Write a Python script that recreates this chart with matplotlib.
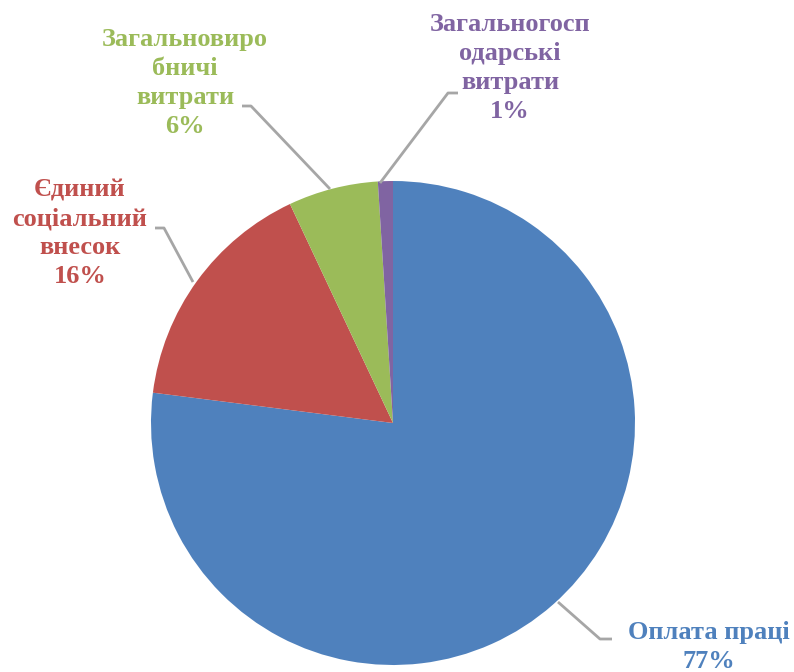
import matplotlib.pyplot as plt

# data
labels = ["Оплата праці", "Єдиний\nсоціальний\nвнесок", "Загальновиро\nбничі\nвитрати", "Загальногосп\nодарські\nвитрати"]
shares = [77, 16, 6, 1]
colors = ["#4F81BD", "#C0504D", "#9BBB59", "#8064A2"]

# label centres and leader lines, in pixel coords (y from top)
label_pos = [(709, 647), (80, 233), (185, 83), (510, 68)]
leaders = [
    [(612, 639), (600, 639), (558, 602)],
    [(155, 228), (164, 228), (193, 282)],
    [(242, 106), (251, 106), (330, 189)],
    [(458, 93), (448, 93), (380, 183)],
]

W, H = 794, 672
fig = plt.figure(figsize=(W / 100, H / 100), dpi=100)
ax = fig.add_axes([0, 0, 1, 1])

ax.pie(shares, colors=colors, startangle=90, counterclock=False,
       center=(393, H - 423), radius=242, frame=True,
       wedgeprops=dict(linewidth=0))
ax.set_xlim(0, W)
ax.set_ylim(0, H)
ax.set_aspect("equal")
ax.axis("off")

for pts in leaders:
    xs = [p[0] for p in pts]
    ys = [H - p[1] for p in pts]
    ax.plot(xs, ys, color="#A6A6A6", lw=2, solid_capstyle="butt")

for lab, v, c, (x, y) in zip(labels, shares, colors, label_pos):
    ax.text(x, H - y, f"{lab}\n{v}%", color=c, ha="center", va="center",
            fontsize=19, fontweight="bold", family="Liberation Serif",
            linespacing=1.33)

fig.savefig("out.png", dpi=100)
